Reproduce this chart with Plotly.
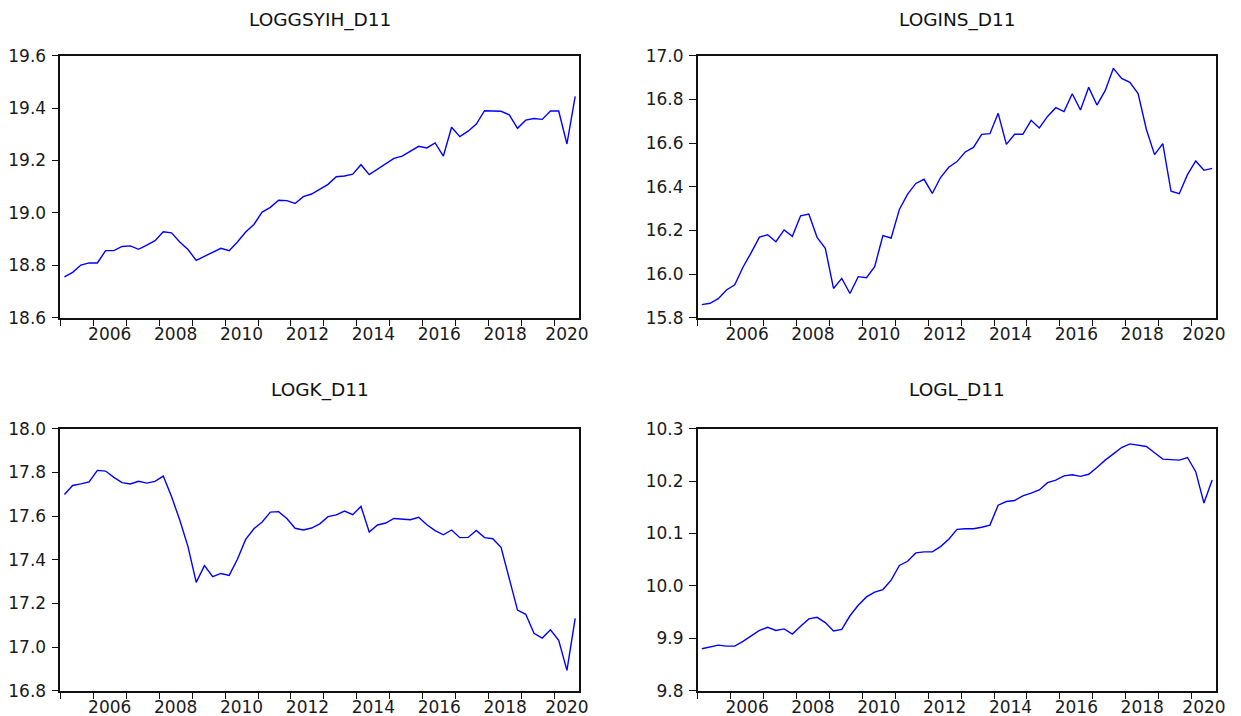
import plotly.graph_objects as go

# Quarterly observations 2005Q1 .. 2020Q3 (63 obs)
start_year = 2005
n_obs = 63

loggsyih_d11 = [
    18.756, 18.773, 18.801, 18.809, 18.809, 18.856, 18.856, 18.872, 18.874, 18.861,
    18.877, 18.894, 18.928, 18.924, 18.889, 18.860, 18.819, 18.834, 18.848, 18.865,
    18.856, 18.889, 18.927, 18.956, 19.003, 19.021, 19.048, 19.047, 19.036, 19.062,
    19.072, 19.090, 19.109, 19.138, 19.141, 19.148, 19.184, 19.146, 19.166, 19.187,
    19.208, 19.217, 19.236, 19.254, 19.248, 19.267, 19.217, 19.327, 19.291, 19.312,
    19.339, 19.390, 19.389, 19.388, 19.374, 19.323, 19.354, 19.360, 19.357, 19.389,
    19.389, 19.263, 19.445,
]

logins_d11 = [
    15.860, 15.866, 15.887, 15.927, 15.951, 16.031, 16.098, 16.169, 16.180, 16.148,
    16.202, 16.173, 16.267, 16.275, 16.168, 16.118, 15.934, 15.980, 15.911, 15.988,
    15.983, 16.034, 16.176, 16.165, 16.296, 16.366, 16.415, 16.434, 16.369, 16.442,
    16.489, 16.515, 16.559, 16.580, 16.640, 16.643, 16.736, 16.594, 16.640, 16.640,
    16.704, 16.669, 16.722, 16.762, 16.744, 16.826, 16.751, 16.855, 16.774, 16.840,
    16.942, 16.896, 16.878, 16.827, 16.663, 16.547, 16.597, 16.379, 16.368, 16.455,
    16.518, 16.475, 16.484,
]

logk_d11 = [
    17.699, 17.740, 17.747, 17.756, 17.809, 17.806, 17.777, 17.753, 17.747, 17.759,
    17.751, 17.759, 17.783, 17.689, 17.582, 17.460, 17.296, 17.373, 17.322, 17.337,
    17.328, 17.402, 17.493, 17.542, 17.573, 17.618, 17.620, 17.589, 17.544, 17.536,
    17.545, 17.564, 17.597, 17.605, 17.623, 17.606, 17.644, 17.527, 17.559, 17.568,
    17.589, 17.586, 17.583, 17.594, 17.560, 17.533, 17.514, 17.536, 17.501, 17.502,
    17.534, 17.501, 17.496, 17.457, 17.315, 17.169, 17.150, 17.063, 17.041, 17.079,
    17.031, 16.893, 17.131,
]

logl_d11 = [
    9.880, 9.884, 9.887, 9.885, 9.885, 9.894, 9.904, 9.915, 9.921, 9.915,
    9.918, 9.908, 9.923, 9.937, 9.940, 9.930, 9.914, 9.917, 9.943, 9.963,
    9.979, 9.988, 9.993, 10.011, 10.039, 10.047, 10.063, 10.065, 10.065, 10.075,
    10.089, 10.108, 10.109, 10.109, 10.112, 10.116, 10.154, 10.161, 10.163, 10.172,
    10.177, 10.183, 10.197, 10.202, 10.210, 10.212, 10.209, 10.213, 10.226, 10.240,
    10.252, 10.264, 10.271, 10.268, 10.266, 10.254, 10.242, 10.241, 10.240, 10.245,
    10.218, 10.158, 10.202,
]

titles = ["LOGGSYIH_D11", "LOGINS_D11", "LOGK_D11", "LOGL_D11"]
series = [loggsyih_d11, logins_d11, logk_d11, logl_d11]
y_ranges = [[18.6, 19.6], [15.8, 17.0], [16.8, 18.0], [9.8, 10.3]]
y_dticks = [0.2, 0.2, 0.2, 0.1]
year_labels = ["2006", "2008", "2010", "2012", "2014", "2016", "2018", "2020"]

# x position of each quarter: centre of its quarter bin
x_vals = [start_year + (i + 0.5) / 4 for i in range(n_obs)]
x_end = start_year + n_obs / 4
year_ticks = list(range(start_year, int(x_end) + 1))
label_pos = [int(y) + 0.5 for y in year_labels]
label_pos[-1] = (int(year_labels[-1]) + x_end) / 2

# page body has an 8px margin; size the figure to fit the 1241x716 window
OFF = 8
W, H = 1241 - OFF, 716 - OFF
x_doms = [[(60.3 - OFF) / W, (579.3 - OFF) / W], [(697.7 - OFF) / W, (1216.3 - OFF) / W]]
y_doms = [[(H - (317.7 - OFF)) / H, (H - (55.7 - OFF)) / H],
          [(H - (690.7 - OFF)) / H, (H - (428.7 - OFF)) / H]]

FONT = "DejaVu Sans"
TICK_SIZE = 17
fig = go.Figure()
layout = dict(
    width=W, height=H,
    margin=dict(l=0, r=0, t=0, b=0, autoexpand=False),
    paper_bgcolor="white", plot_bgcolor="white",
    showlegend=False,
    font=dict(family=FONT, size=TICK_SIZE, color="#1a1a1a"),
)
annotations = []
for k in range(4):
    r, c = divmod(k, 2)
    xa = "x" if k == 0 else f"x{k+1}"
    ya = "y" if k == 0 else f"y{k+1}"
    fig.add_trace(go.Scatter(
        x=x_vals, y=series[k], mode="lines",
        line=dict(color="#0000FF", width=1.4),
        xaxis=xa, yaxis=ya, hoverinfo="x+y",
    ))
    xkey = "xaxis" if k == 0 else f"xaxis{k+1}"
    ykey = "yaxis" if k == 0 else f"yaxis{k+1}"
    layout[xkey] = dict(
        domain=x_doms[c], anchor=ya, range=[start_year, x_end],
        automargin=False,
        showgrid=False, zeroline=False,
        showline=True, mirror=True, linecolor="#111111", linewidth=1.5,
        tickmode="array", tickvals=label_pos, ticktext=year_labels,
        ticks="", tickfont=dict(family=FONT, size=TICK_SIZE, color="#1a1a1a"),
        minor=dict(tickmode="array", tickvals=year_ticks, ticks="outside",
                   ticklen=7, tickwidth=1.3, tickcolor="#111111", showgrid=False),
        fixedrange=True,
    )
    layout[ykey] = dict(
        domain=y_doms[r], anchor=xa, range=y_ranges[k],
        automargin=False,
        showgrid=False, zeroline=False,
        showline=True, mirror=True, linecolor="#111111", linewidth=1.5,
        tickmode="linear", tick0=y_ranges[k][0], dtick=y_dticks[k],
        tickformat=".1f",
        ticks="outside", ticklen=7, tickwidth=1.3, tickcolor="#111111",
        ticklabelstandoff=2,
        tickfont=dict(family=FONT, size=TICK_SIZE, color="#1a1a1a"),
        fixedrange=True,
    )
    if r == 0:
        ty, yanchor = 1.0, "top"
    else:
        ty, yanchor = (H - (390 - OFF)) / H, "middle"
    annotations.append(dict(
        text=titles[k], xref="paper", yref="paper",
        x=(x_doms[c][0] + x_doms[c][1]) / 2,
        y=ty, xanchor="center", yanchor=yanchor, showarrow=False,
        borderpad=0,
        font=dict(family=FONT, size=18.5, color="#111111"),
    ))
layout["annotations"] = annotations
fig.update_layout(**layout)
fig.write_html("out.html")
